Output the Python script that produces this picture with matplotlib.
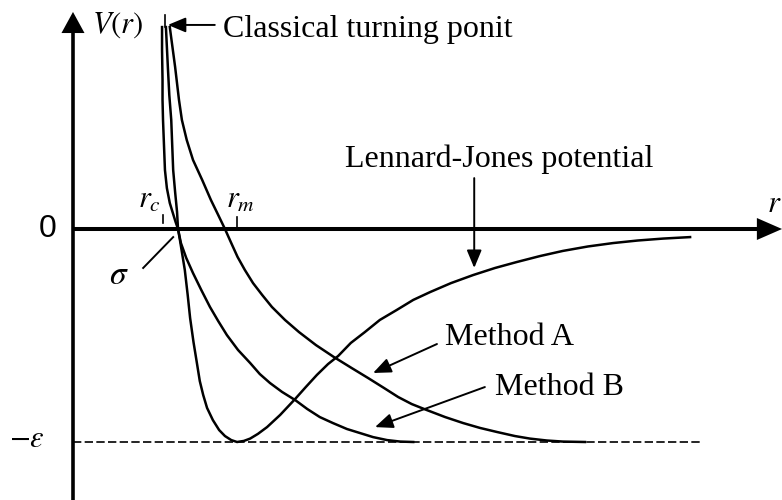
import matplotlib
matplotlib.use("Agg")
import matplotlib.pyplot as plt
import numpy as np

plt.rcParams["font.family"] = ["Liberation Serif", "DejaVu Serif"]
plt.rcParams["mathtext.fontset"] = "stix"

# r in units of sigma, V in units of epsilon
lj_r = [0.967, 0.967, 0.968, 0.968, 0.969, 0.971, 0.973, 0.977, 0.983, 0.990,
        0.995, 1.000, 1.004, 1.009, 1.014, 1.020, 1.025, 1.032, 1.039, 1.045,
        1.052, 1.060, 1.072, 1.085, 1.097, 1.110, 1.122, 1.136, 1.149, 1.165,
        1.184, 1.211, 1.242, 1.264, 1.287, 1.310, 1.331, 1.357, 1.386, 1.417,
        1.452, 1.486, 1.521, 1.564, 1.610, 1.655, 1.700, 1.748, 1.795, 1.847,
        1.899, 1.950, 2.002, 2.058]
lj_v = [0.948, 0.840, 0.700, 0.606, 0.512, 0.394, 0.277, 0.192, 0.122, 0.070,
        0.033, 0.000, -0.052, -0.122, -0.192, -0.310, -0.418, -0.531, -0.629, -0.714,
        -0.779, -0.840, -0.897, -0.944, -0.972, -0.991, -1.000, -0.995, -0.984, -0.962,
        -0.930, -0.873, -0.798, -0.742, -0.685, -0.634, -0.596, -0.535, -0.484, -0.427,
        -0.380, -0.333, -0.296, -0.254, -0.216, -0.183, -0.155, -0.127, -0.103, -0.082,
        -0.066, -0.054, -0.045, -0.038]

method_a_r = [0.983, 0.994, 1.002, 1.008, 1.018, 1.031, 1.050, 1.068, 1.083, 1.097,
              1.110, 1.123, 1.138, 1.155, 1.174, 1.194, 1.221, 1.250, 1.285, 1.322,
              1.359, 1.393, 1.426, 1.455, 1.483, 1.514, 1.552, 1.589, 1.624, 1.659,
              1.696, 1.727, 1.762, 1.795, 1.841]
method_a_v = [0.948, 0.761, 0.606, 0.512, 0.418, 0.324, 0.230, 0.136, 0.066, 0.000,
              -0.066, -0.131, -0.192, -0.254, -0.310, -0.366, -0.427, -0.484, -0.545, -0.601,
              -0.653, -0.700, -0.747, -0.789, -0.822, -0.850, -0.883, -0.911, -0.934, -0.953,
              -0.972, -0.984, -0.993, -0.998, -1.000]

method_b_r = [0.975, 0.977, 0.979, 0.982, 0.986, 0.988, 0.990, 0.994, 0.998, 1.000,
              1.006, 1.017, 1.031, 1.048, 1.066, 1.083, 1.101, 1.124, 1.149, 1.169,
              1.190, 1.215, 1.242, 1.267, 1.293, 1.320, 1.349, 1.376, 1.403, 1.432,
              1.459, 1.486]
method_b_v = [0.948, 0.854, 0.761, 0.629, 0.512, 0.394, 0.277, 0.174, 0.080, 0.000,
              -0.066, -0.136, -0.207, -0.286, -0.366, -0.432, -0.498, -0.568, -0.629, -0.681,
              -0.723, -0.765, -0.803, -0.845, -0.883, -0.911, -0.939, -0.958, -0.977, -0.991,
              -0.998, -1.000]

eps_level = -1.0
r_c = 0.969
r_m = 1.122

fig = plt.figure(figsize=(7.82, 5.0), dpi=100)
ax = fig.add_axes([0, 0, 1, 1])
ax.set_xlim(0.6322, 2.2479)
ax.set_ylim(-1.2723, 1.0751)
ax.axis("off")

r0 = 0.783

# axes with arrow heads
ax.plot([r0, r0], [-1.2723, 0.93], color="k", lw=2.6, solid_capstyle="butt")
ax.fill([r0 - 0.0238, r0, r0 + 0.0238], [0.92, 1.019, 0.92], color="k", lw=0)
ax.plot([r0, 2.2], [0, 0], color="k", lw=2.9, solid_capstyle="butt")
ax.fill([2.196, 2.248, 2.196], [-0.0516, 0, 0.0516], color="k", lw=0)

# -epsilon level
ax.plot([r0, 2.083], [eps_level, eps_level], color="k", lw=1.2, ls=(0, (5, 2)))

# potentials
for xs, ys in [(lj_r, lj_v), (method_a_r, method_a_v), (method_b_r, method_b_v)]:
    ax.plot(xs, ys, color="k", lw=1.8, solid_joinstyle="round")

# small ticks for r_c, r_m and the turning point
ax.plot([r_c, r_c], [0.028, 0.066], color="k", lw=1.2)
ax.plot([r_m, r_m], [0.009, 0.056], color="k", lw=1.2)
ax.plot([0.973, 0.973], [0.948, 1.005], color="k", lw=1.2)

# labels
ax.text(0.875, 0.958, r"$V(r)$", fontsize=22, ha="center", va="center")
ax.text(0.731, 0.0, "0", fontsize=23, family="Liberation Sans", ha="center", va="center")
ax.text(0.688, eps_level + 0.01, r"$-\varepsilon$", fontsize=22, ha="center", va="center")
ax.text(0.877, -0.221, r"$\sigma$", fontsize=24, ha="center", va="center")
ax.plot([0.928, 0.990], [-0.183, -0.038], color="k", lw=1.4)
ax.text(0.942, 0.136, r"$r_c$", fontsize=22, ha="center", va="center")
ax.text(1.130, 0.136, r"$r_m$", fontsize=22, ha="center", va="center")
ax.text(2.217, 0.08, r"$r$", fontsize=22, ha="left", va="baseline")

arrow = dict(arrowstyle="-|>,head_length=0.6,head_width=0.25", color="k", lw=1.4,
             mutation_scale=18, shrinkA=0, shrinkB=0)

ax.text(1.093, 0.901, "Classical turning ponit", fontsize=23, ha="left", va="baseline")
ax.annotate("", xy=(0.979, 0.958), xytext=(1.076, 0.958), arrowprops=arrow)

ax.text(1.345, 0.291, "Lennard-Jones potential", fontsize=23, ha="left", va="baseline")
ax.annotate("", xy=(1.612, -0.183), xytext=(1.612, 0.239), arrowprops=arrow)

ax.text(1.552, -0.545, "Method A", fontsize=23, ha="left", va="baseline")
ax.annotate("", xy=(1.403, -0.676), xytext=(1.535, -0.540), arrowprops=arrow)

ax.text(1.655, -0.779, "Method B", fontsize=23, ha="left", va="baseline")
ax.annotate("", xy=(1.407, -0.930), xytext=(1.634, -0.742), arrowprops=arrow)

fig.savefig("out.png", dpi=100)
